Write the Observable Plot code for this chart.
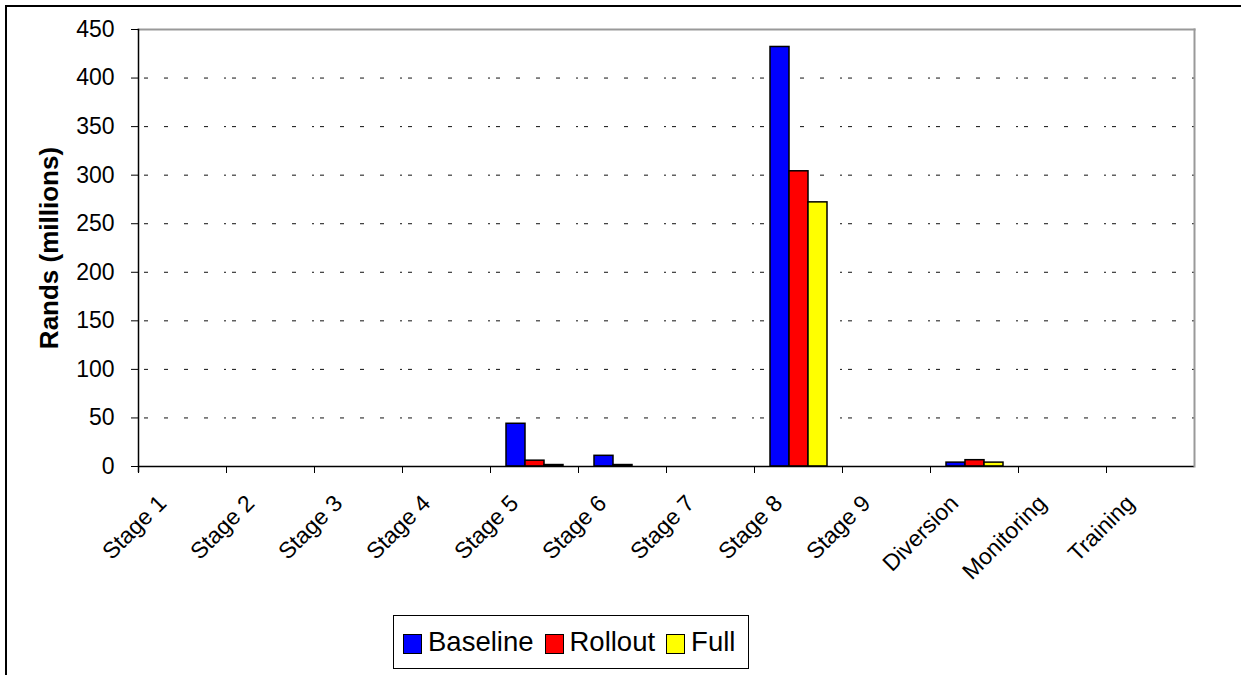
<!DOCTYPE html>
<html>
<head>
<meta charset="utf-8">
<script src="https://cdn.jsdelivr.net/npm/d3@7"></script>
<script src="https://cdn.jsdelivr.net/npm/@observablehq/plot@0.6"></script>
<style>
  html, body { margin: 0; padding: 0; background: #fff; width: 1241px; height: 675px; overflow: hidden; }
  body { position: relative; font-family: "Liberation Sans", Arial, sans-serif; }
  #outer { position: absolute; left: 5px; top: 5px; width: 1300px; height: 700px; border: 2px solid #000; box-sizing: border-box; }
  #chart { position: absolute; left: 0; top: 0; }
  #legend { position: absolute; left: 393px; top: 615px; width: 356px; height: 54px; border: 1px solid #000; box-sizing: border-box;
            display: flex; align-items: center; padding-left: 9px; font-size: 27.5px; color: #000; background: #fff; white-space: nowrap; }
  .item { display: flex; align-items: center; margin-right: 11px; }
  .sw { width: 19px; height: 20px; border: 1.5px solid #000; box-sizing: border-box; margin-right: 6px; margin-top: 4px; }
</style>
</head>
<body>
<div id="outer"></div>
<div id="chart"></div>
<div id="legend"></div>
<script>
const categories = ["Stage 1", "Stage 2", "Stage 3", "Stage 4", "Stage 5", "Stage 6", "Stage 7", "Stage 8", "Stage 9", "Diversion", "Monitoring", "Training"];
const seriesNames = ["Baseline", "Rollout", "Full"];
const baseline = [0, 0, 0, 0, 44, 11, 0, 432, 0, 4, 0, 0];
const rollout  = [0, 0, 0, 0, 6, 1.5, 0, 304, 0, 6.5, 0, 0];
const full     = [0, 0, 0, 0, 1.5, 0, 0, 272, 0, 4, 0, 0];
const seriesColors = ["#0000ff", "#ff0000", "#ffff00"];
const yTicks = [0, 50, 100, 150, 200, 250, 300, 350, 400, 450];
const gridTicks = [50, 100, 150, 200, 250, 300, 350, 400];
const yLabel = "Rands (millions)";

const valuesBySeries = [baseline, rollout, full];
const data = categories.flatMap((c, i) => seriesNames.map((s, j) => ({category: c, series: s, value: valuesBySeries[j][i]})));

const chart = Plot.plot({
  width: 1241,
  height: 610,
  marginTop: 29,
  marginLeft: 132,
  marginRight: 42,
  marginBottom: 144,
  style: {fontFamily: "'Liberation Sans', Arial, sans-serif", fontSize: "23px", color: "#000", background: "transparent", overflow: "visible"},
  fx: {domain: categories, padding: 0, label: null},
  x: {domain: seriesNames, paddingInner: 0, paddingOuter: 0.72, axis: null},
  y: {domain: [0, 450], label: null},
  color: {domain: seriesNames, range: seriesColors},
  marks: [
    Plot.ruleY(gridTicks, {stroke: "#111", strokeWidth: 1, strokeDasharray: "4,16", strokeDashoffset: -6}),
    Plot.barY(data, {fx: "category", x: "series", y: "value", fill: "series", stroke: "#000", strokeWidth: 1.5}),
    Plot.ruleY([0], {stroke: "#000", strokeWidth: 1.5}),
    Plot.frame({anchor: "left", stroke: "#000", strokeWidth: 1, insetTop: 437, insetBottom: -6}),
    Plot.frame({anchor: "top", stroke: "#999", strokeWidth: 2, facet: "super"}),
    Plot.frame({anchor: "right", stroke: "#999", strokeWidth: 2, facet: "super"}),
    Plot.frame({anchor: "left", stroke: "#000", strokeWidth: 1.5, insetBottom: -5, facet: "super"}),
    Plot.axisY({ticks: yTicks, tickSize: 7, tickPadding: 17, label: null, fontSize: 23}),
    Plot.axisY({ticks: [], label: yLabel, labelAnchor: "center", labelArrow: "none", labelOffset: 99, fontSize: 26, fontWeight: "bold"}),
    Plot.axisFx({anchor: "bottom", tickRotate: -45, tickSize: 0, tickPadding: 33, dx: -20, label: null, fontSize: 23})
  ]
});
document.getElementById("chart").appendChild(chart);

const legend = document.getElementById("legend");
seriesNames.forEach((s, i) => {
  const item = document.createElement("div");
  item.className = "item";
  const sw = document.createElement("div");
  sw.className = "sw";
  sw.style.background = seriesColors[i];
  const t = document.createElement("span");
  t.textContent = s;
  item.appendChild(sw);
  item.appendChild(t);
  legend.appendChild(item);
});
</script>
</body>
</html>
